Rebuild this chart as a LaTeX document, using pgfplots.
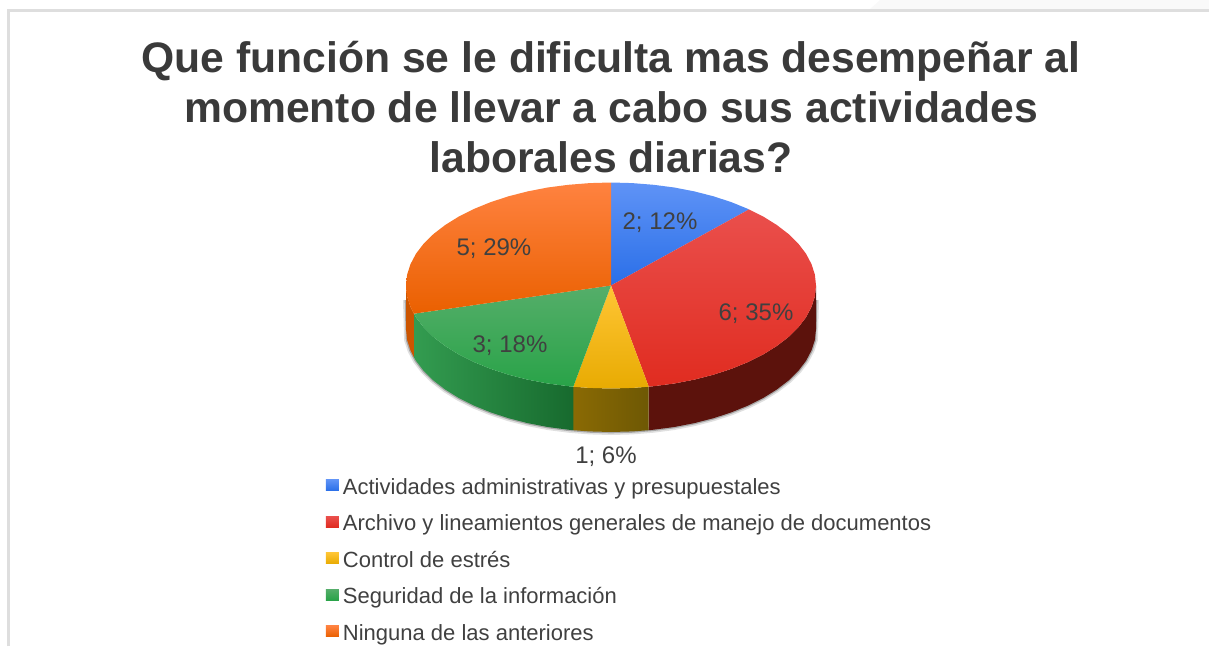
\documentclass[border=0pt]{standalone}
\usepackage{fontspec}
\setmainfont{Liberation Sans}
\usepackage{pgfplots}
\pgfplotsset{compat=1.18}
\definecolor{txt}{HTML}{404040}
\definecolor{ttl}{HTML}{3A3A3A}
\definecolor{frame}{HTML}{DEDEDE}
\definecolor{rimr}{HTML}{5C120C}
\definecolor{rimyl}{HTML}{8A6A04}
\definecolor{rimyr}{HTML}{6E5804}
\definecolor{rimgl}{HTML}{339C50}
\definecolor{rimgr}{HTML}{176A2E}
\definecolor{rimo}{HTML}{CC5500}
\definecolor{blue1}{HTML}{5F93F6}
\definecolor{blue2}{HTML}{4285F4}
\definecolor{blue3}{HTML}{2A6FE8}
\definecolor{red1}{HTML}{EA4F4C}
\definecolor{red2}{HTML}{F03E36}
\definecolor{red3}{HTML}{E02C20}
\definecolor{yel1}{HTML}{FFC535}
\definecolor{yel2}{HTML}{FBBC04}
\definecolor{yel3}{HTML}{E8AB02}
\definecolor{grn1}{HTML}{55AE6A}
\definecolor{grn2}{HTML}{2BAA4B}
\definecolor{grn3}{HTML}{29A348}
\definecolor{org1}{HTML}{FF8240}
\definecolor{org2}{HTML}{FF6D01}
\definecolor{org3}{HTML}{EA6000}
\pgfplotsset{swatch/.style={legend image code/.code={\path[draw=none] (0pt,0pt) -- (12.75pt,0pt); \fill[##1, draw=none] (0pt,2.6pt) rectangle (9.75pt,10.85pt);}}}
\begin{document}
\begin{tikzpicture}
\path[use as bounding box] (0,0) rectangle (906.75pt,484.5pt);
\begin{axis}[
  at={(0,0)}, anchor=south west,
  scale only axis, width=906.75pt, height=484.5pt,
  xmin=0, xmax=1209, ymin=0, ymax=646, y dir=reverse,
  hide axis, clip=true,
  legend style={at={(0.2696,0.2620)}, anchor=north west, draw=none, fill=none,
    font=\fontsize{16.5}{18}\selectfont\color{txt}, inner sep=0pt, outer sep=0pt,
    row sep=9.6pt,
    nodes={inner sep=0pt, text height=13pt, text depth=4.8pt, anchor=base west}},
  legend cell align=left,
]
% backdrop and frame
\addplot[draw=none, fill=black!2.5, forget plot] coordinates {(880,0)(1209,0)(1209,9)(870,9)(880,0)};
\addplot[frame, line width=2.2pt, forget plot] coordinates {(8.5,646)(8.5,10.5)(1209,10.5)};

% soft shadow below the rim
\addplot[black, opacity=0.12, line width=4.5pt, forget plot] coordinates {(406,300)(407.1,339.8)(410.5,350.4)(416,360.8)(423.7,370.9)(433.5,380.5)(445.2,389.5)(458.7,397.9)(473.8,405.5)(490.5,412.3)(508.5,418.2)(527.6,423.1)(547.7,427)(568.4,429.7)(589.6,431.4)(611,432)(632.4,431.4)(653.6,429.7)(674.3,427)(694.4,423.1)(713.5,418.2)(731.5,412.3)(748.2,405.5)(763.3,397.9)(776.8,389.5)(788.5,380.5)(798.3,370.9)(806,360.8)(811.5,350.4)(814.9,339.8)(816,300)};
\addplot[black, opacity=0.25, line width=2pt, forget plot] coordinates {(406,300)(407.1,339.8)(410.5,350.4)(416,360.8)(423.7,370.9)(433.5,380.5)(445.2,389.5)(458.7,397.9)(473.8,405.5)(490.5,412.3)(508.5,418.2)(527.6,423.1)(547.7,427)(568.4,429.7)(589.6,431.4)(611,432)(632.4,431.4)(653.6,429.7)(674.3,427)(694.4,423.1)(713.5,418.2)(731.5,412.3)(748.2,405.5)(763.3,397.9)(776.8,389.5)(788.5,380.5)(798.3,370.9)(806,360.8)(811.5,350.4)(814.9,339.8)(816,300)};

% rim of the disc
\addplot[draw=none, fill=rimr, forget plot] coordinates {(816,285.5)(814.9,296.3)(811.5,306.9)(806,317.3)(798.3,327.4)(788.5,337)(776.8,346)(763.3,354.4)(748.2,362)(731.5,368.8)(713.5,374.7)(694.4,379.6)(674.3,383.5)(653.6,386.2)(648.7,386.7)(648.7,430.2)(653.6,429.7)(674.3,427)(694.4,423.1)(713.5,418.2)(731.5,412.3)(748.2,405.5)(763.3,397.9)(776.8,389.5)(788.5,380.5)(798.3,370.9)(806,360.8)(811.5,350.4)(814.9,339.8)(816,329)(816,285.5)};
\addplot[draw=none, left color=rimyl, right color=rimyr, forget plot] coordinates {(648.7,386.7)(632.4,387.9)(611,388.5)(589.6,387.9)(573.3,386.7)(573.3,430.2)(589.6,431.4)(611,432)(632.4,431.4)(648.7,430.2)(648.7,386.7)};
\addplot[draw=none, left color=rimgl, right color=rimgr, forget plot] coordinates {(573.3,386.7)(568.4,386.2)(547.7,383.5)(527.6,379.6)(508.5,374.7)(490.5,368.8)(473.8,362)(458.7,354.4)(445.2,346)(433.5,337)(423.7,327.4)(416,317.3)(413.9,313.7)(413.9,357.2)(416,360.8)(423.7,370.9)(433.5,380.5)(445.2,389.5)(458.7,397.9)(473.8,405.5)(490.5,412.3)(508.5,418.2)(527.6,423.1)(547.7,427)(568.4,429.7)(573.3,430.2)(573.3,386.7)};
\addplot[draw=none, fill=rimo, forget plot] coordinates {(413.9,313.7)(410.5,306.9)(407.1,296.3)(406,285.5)(406,329)(407.1,339.8)(410.5,350.4)(413.9,357.2)(413.9,313.7)};

% top of the disc: 2, 6, 1, 3, 5 answers
\addplot[draw=none, top color=blue1, middle color=blue2, bottom color=blue3, forget plot] coordinates {(611,285.5)(611,182.5)(632.4,183.1)(653.6,184.8)(674.3,187.5)(694.4,191.4)(713.5,196.3)(731.5,202.2)(748.2,209)(749,209.4)(611,285.5)};
\addplot[draw=none, top color=red1, middle color=red2, bottom color=red3, forget plot] coordinates {(611,285.5)(749,209.4)(763.3,216.6)(776.8,225)(788.5,234)(798.3,243.6)(806,253.7)(811.5,264.1)(814.9,274.7)(816,285.5)(814.9,296.3)(811.5,306.9)(806,317.3)(798.3,327.4)(788.5,337)(776.8,346)(763.3,354.4)(748.2,362)(731.5,368.8)(713.5,374.7)(694.4,379.6)(674.3,383.5)(653.6,386.2)(648.7,386.7)(611,285.5)};
\addplot[draw=none, top color=yel1, middle color=yel2, bottom color=yel3, forget plot] coordinates {(611,285.5)(648.7,386.7)(632.4,387.9)(611,388.5)(589.6,387.9)(573.3,386.7)(611,285.5)};
\addplot[draw=none, top color=grn1, middle color=grn2, bottom color=grn3, forget plot] coordinates {(611,285.5)(573.3,386.7)(568.4,386.2)(547.7,383.5)(527.6,379.6)(508.5,374.7)(490.5,368.8)(473.8,362)(458.7,354.4)(445.2,346)(433.5,337)(423.7,327.4)(416,317.3)(413.9,313.7)(611,285.5)};
\addplot[draw=none, top color=org1, middle color=org2, bottom color=org3, forget plot] coordinates {(611,285.5)(413.9,313.7)(410.5,306.9)(407.1,296.3)(406,285.5)(407.1,274.7)(410.5,264.1)(416,253.7)(423.7,243.6)(433.5,234)(445.2,225)(458.7,216.6)(473.8,209)(490.5,202.2)(508.5,196.3)(527.6,191.4)(547.7,187.5)(568.4,184.8)(589.6,183.1)(611,182.5)(611,285.5)};

% legend
\addlegendimage{swatch, top color=blue1, bottom color=blue3}
\addlegendentry{Actividades administrativas y presupuestales}
\addlegendimage{swatch, top color=red1, bottom color=red3}
\addlegendentry{Archivo y lineamientos generales de manejo de documentos}
\addlegendimage{swatch, top color=yel1, bottom color=yel3}
\addlegendentry{Control de estrés}
\addlegendimage{swatch, top color=grn1, bottom color=grn3}
\addlegendentry{Seguridad de la información}
\addlegendimage{swatch, top color=org1, bottom color=org3}
\addlegendentry{Ninguna de las anteriores}

% title
\node[anchor=base, text=ttl, font=\fontsize{32}{36}\selectfont\bfseries] at (axis cs:611,72) {Que función se le dificulta mas desempeñar al};
\node[anchor=base, text=ttl, font=\fontsize{32}{36}\selectfont\bfseries] at (axis cs:611,122) {momento de llevar a cabo sus actividades};
\node[anchor=base, text=ttl, font=\fontsize{32}{36}\selectfont\bfseries] at (axis cs:611,172) {laborales diarias?};

% data labels
\node[text=txt, font=\fontsize{18}{20}\selectfont] at (axis cs:660,223) {2; 12\%};
\node[text=txt, font=\fontsize{18}{20}\selectfont] at (axis cs:756,314) {6; 35\%};
\node[text=txt, font=\fontsize{18}{20}\selectfont] at (axis cs:606,456.5) {1; 6\%};
\node[text=txt, font=\fontsize{18}{20}\selectfont] at (axis cs:510,346) {3; 18\%};
\node[text=txt, font=\fontsize{18}{20}\selectfont] at (axis cs:494,249) {5; 29\%};
\end{axis}
\end{tikzpicture}
\end{document}
